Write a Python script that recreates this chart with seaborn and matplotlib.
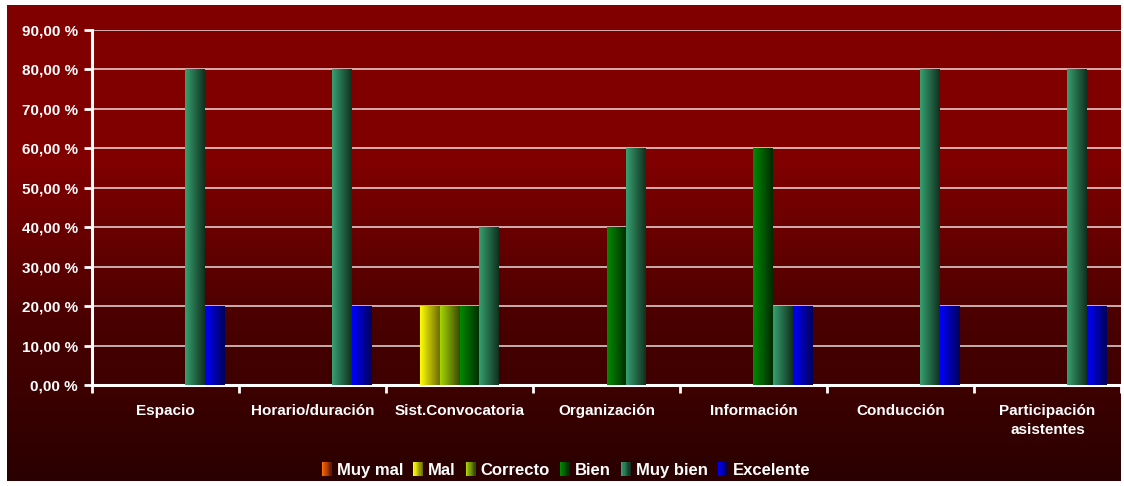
import numpy as np
import pandas as pd
import matplotlib
matplotlib.use("Agg")
import matplotlib.pyplot as plt
from matplotlib.colors import LinearSegmentedColormap
from matplotlib.patches import Patch, Rectangle
from matplotlib.legend_handler import HandlerBase
import seaborn as sns

# ── Data ────────────────────────────────────────────────────────────────────
categories = ["Espacio", "Horario/duración", "Sist.Convocatoria", "Organización",
              "Información", "Conducción", "Participación\nasistentes"]
series = ["Muy mal", "Mal", "Correcto", "Bien", "Muy bien", "Excelente"]

muy_mal   = [0, 0, 0, 0, 0, 0, 0]
mal       = [0, 0, 20, 0, 0, 0, 0]
correcto  = [0, 0, 20, 0, 0, 0, 0]
bien      = [0, 0, 20, 40, 60, 0, 0]
muy_bien  = [80, 80, 40, 60, 20, 80, 80]
excelente = [20, 20, 0, 0, 20, 20, 20]

y_ticks = [0, 10, 20, 30, 40, 50, 60, 70, 80, 90]

# ── Style ───────────────────────────────────────────────────────────────────
# (light, dark) pair for the horizontal shading of each series
SHADES = {
    "Muy mal":   ("#ff6a00", "#6a1a00"),
    "Mal":       ("#ffff00", "#6b6b00"),
    "Correcto":  ("#a6d600", "#3a4a00"),
    "Bien":      ("#008a00", "#002a00"),
    "Muy bien":  ("#36a070", "#12301f"),
    "Excelente": ("#0000ff", "#00005a"),
}


class GradientHandler(HandlerBase):
    """Legend key drawn as a small horizontally shaded square."""
    def create_artists(self, legend, orig_handle, xdescent, ydescent,
                       width, height, fontsize, trans):
        light, dark = SHADES[orig_handle.get_label()]
        cmap = LinearSegmentedColormap.from_list("k", [light, dark])
        n = 8
        arts = []
        for i in range(n):
            r = Rectangle((-xdescent + i * width / n, -ydescent), width / n + 0.3, height,
                          facecolor=cmap(i / (n - 1)), edgecolor="none", transform=trans)
            arts.append(r)
        return arts


sns.set_theme(style="white")
plt.rcParams["font.family"] = ["Liberation Sans", "DejaVu Sans"]
plt.rcParams["font.weight"] = "bold"

values = [muy_mal, mal, correcto, bien, muy_bien, excelente]
df = pd.DataFrame({
    "categoria": np.repeat(categories, len(series)),
    "serie": series * len(categories),
    "valor": [values[s][c] for c in range(len(categories)) for s in range(len(series))],
})

fig = plt.figure(figsize=(11.24, 4.86), dpi=100, facecolor="white")

# background panel with vertical dark-red gradient
ax_bg = fig.add_axes([7 / 1124, 5 / 486, 1114 / 1124, 476 / 486], zorder=0)
bg_cmap = LinearSegmentedColormap.from_list("bg", ["#2a0000", "#4a0000", "#800000", "#800000"])
grad = np.linspace(0, 1, 256).reshape(-1, 1)
ax_bg.imshow(grad, aspect="auto", cmap=bg_cmap, origin="lower", extent=[0, 1, 0, 1])
ax_bg.set_axis_off()

ax = fig.add_axes([92 / 1124, 1 - 385 / 486, 1029 / 1124, 355 / 486], zorder=1)
ax.patch.set_alpha(0)

palette = {s: SHADES[s][0] for s in series}
sns.barplot(data=df, x="categoria", y="valor", hue="serie", hue_order=series,
            order=categories, palette=palette, width=0.816, gap=0, ax=ax,
            legend=False, saturation=1)

# replace flat bars with horizontally shaded ones
for bars, s in zip(ax.containers, series):
    cmap = LinearSegmentedColormap.from_list(s, [SHADES[s][0], SHADES[s][1]])
    for p in bars:
        h = p.get_height()
        p.set_visible(False)
        if h <= 0:
            continue
        x0 = p.get_x()
        w = p.get_width()
        ax.imshow(np.linspace(0, 1, 64).reshape(1, -1), cmap=cmap, aspect="auto",
                  extent=[x0, x0 + w, 0, h], zorder=3)

ax.set_xlim(-0.5, len(categories) - 0.5)
ax.set_ylim(0, 90)
ax.set_yticks(y_ticks)
ax.set_yticklabels([f"{v:.2f}".replace(".", ",") + " %" for v in y_ticks])
ax.yaxis.grid(True, color="white", linewidth=1.2, alpha=0.8, zorder=1)
ax.set_axisbelow(True)

ax.set_xlabel("")
ax.set_ylabel("")
ax.tick_params(axis="y", colors="white", labelsize=11, length=6, width=2,
               direction="out", left=True, pad=4)
ax.tick_params(axis="x", colors="white", labelsize=11, length=0, pad=14)
ax.set_xticks(np.arange(len(categories) + 1) - 0.5, minor=True)
ax.tick_params(axis="x", which="minor", length=6, width=2, color="white",
               direction="out", bottom=True)
for lab in ax.get_xticklabels() + ax.get_yticklabels():
    lab.set_fontweight("bold")
    lab.set_color("white")
for lab in ax.get_xticklabels():
    lab.set_linespacing(1.4)

for side in ["top", "right"]:
    ax.spines[side].set_visible(False)
for side in ["left", "bottom"]:
    ax.spines[side].set_color("white")
    ax.spines[side].set_linewidth(2.2)

handles = [Patch(facecolor=SHADES[s][0], edgecolor="none", label=s) for s in series]
leg = fig.legend(handles=handles, loc="center", bbox_to_anchor=(566 / 1124, 1 - 470 / 486),
                 ncol=6, frameon=False, fontsize=12, handlelength=0.6,
                 handleheight=0.95, handletextpad=0.3, columnspacing=0.6,
                 handler_map={Patch: GradientHandler()})
for t in leg.get_texts():
    t.set_color("white")
    t.set_fontweight("bold")

fig.savefig("out.png", dpi=100, facecolor="white")
